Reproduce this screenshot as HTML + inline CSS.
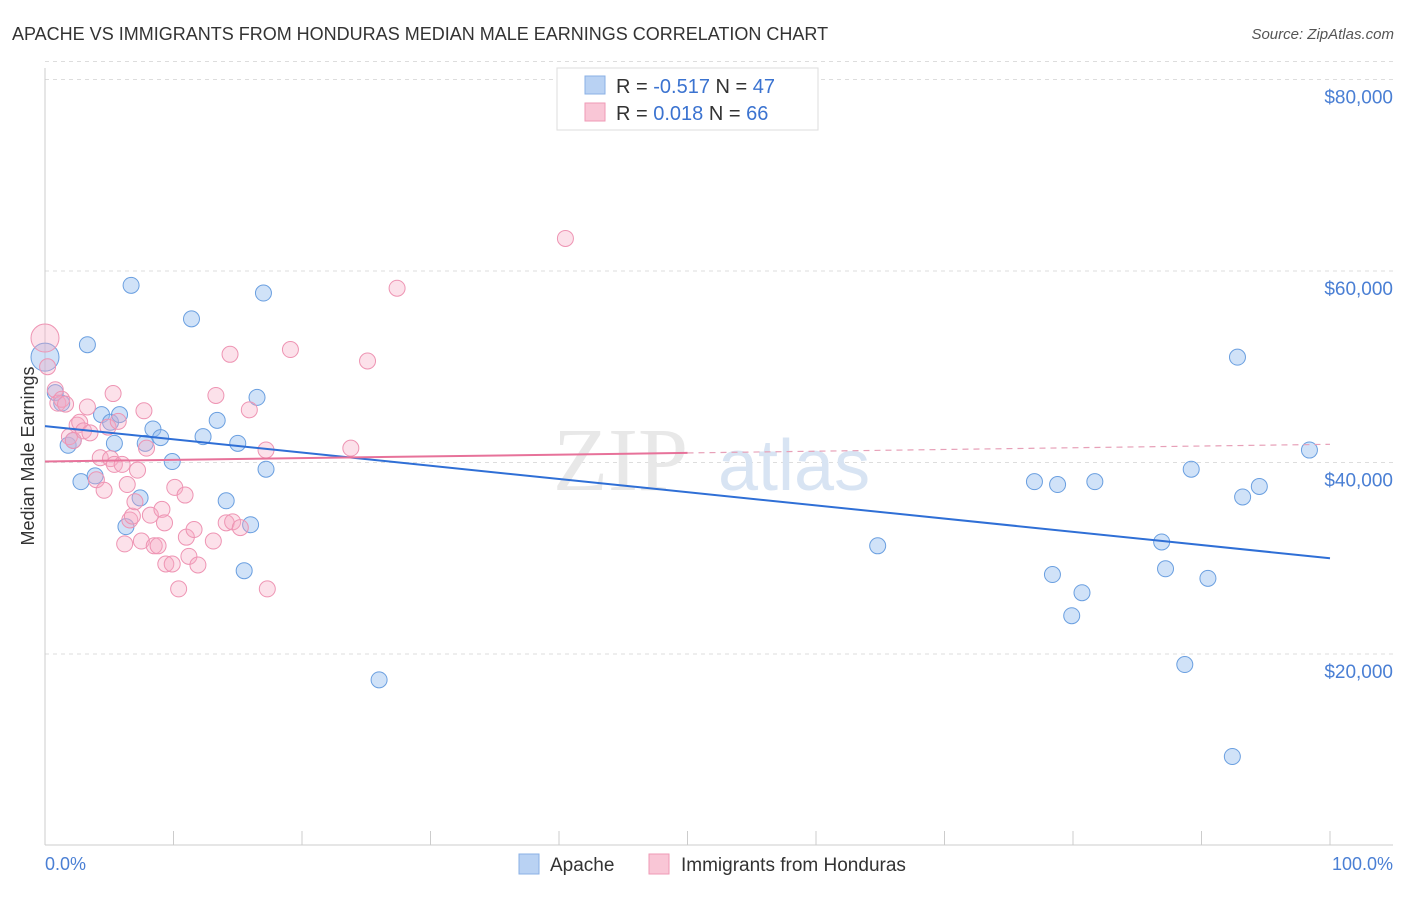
<!DOCTYPE html>
<html><head><meta charset="utf-8"><style>
body{margin:0;background:#fff;font-family:"Liberation Sans",sans-serif;}
</style></head><body>
<svg width="1406" height="892" viewBox="0 0 1406 892" xmlns="http://www.w3.org/2000/svg" style="font-family:'Liberation Sans',sans-serif">
<text x="12" y="40" font-size="18" fill="#333">APACHE VS IMMIGRANTS FROM HONDURAS MEDIAN MALE EARNINGS CORRELATION CHART</text>
<text x="1394" y="39" font-size="15" fill="#555" text-anchor="end" font-style="italic">Source: ZipAtlas.com</text>
<g id="grid"></g>
<text x="553" y="490" font-size="90" fill="#e8e8e8" font-family="Liberation Serif">ZIP</text>
<text x="718" y="490" font-size="72" fill="#d8e4f3">atlas</text>
<line x1="45" y1="68" x2="45" y2="845" stroke="#ccc"/>
<line x1="45" y1="845" x2="1393" y2="845" stroke="#ccc"/>
<g id="ticks"></g>
<text transform="translate(34,456) rotate(-90)" font-size="18" fill="#333" text-anchor="middle">Median Male Earnings</text>
<text x="45" y="870" font-size="18" fill="#4a7fd4">0.0%</text>
<text x="1393" y="870" font-size="18" fill="#4a7fd4" text-anchor="end">100.0%</text>
<g id="points"></g>
<g id="lines"></g>
<g>
<rect x="557" y="68" width="261" height="62" fill="#fff" stroke="#ddd"/>
<rect x="585" y="76" width="20" height="18" fill="#b9d2f3" stroke="#8ab0e6"/>
<rect x="585" y="103" width="20" height="18" fill="#f9c6d6" stroke="#ef9ab6"/>
<text x="616" y="93" font-size="20" fill="#333">R = <tspan fill="#3b73d0">-0.517</tspan>   N = <tspan fill="#3b73d0">47</tspan></text>
<text x="616" y="120" font-size="20" fill="#333">R = <tspan fill="#3b73d0"> 0.018</tspan>   N = <tspan fill="#3b73d0">66</tspan></text>
</g>
<g>
<rect x="519" y="854" width="20" height="20" fill="#b9d2f3" stroke="#8ab0e6"/>
<text x="550" y="871" font-size="19" fill="#333">Apache</text>
<rect x="649" y="854" width="20" height="20" fill="#f9c6d6" stroke="#ef9ab6"/>
<text x="681" y="871" font-size="19" fill="#333">Immigrants from Honduras</text>
</g>
</svg>
<script>
const yTicks=[20000,40000,60000,80000];
const yTickLabels=["$20,000","$40,000","$60,000","$80,000"];
const xTicks=[0,10,20,30,40,50,60,70,80,90,100];
const apacheX=[0,0.8,1.3,1.8,2.2,2.8,3.3,3.9,4.4,5.1,5.4,5.8,6.3,6.7,7.4,7.8,8.4,9,9.9,11.4,12.3,13.4,14.1,15,15.5,16,16.5,17,17.2,26,64.8,77,78.4,78.8,79.9,80.7,81.7,86.9,87.2,88.7,89.2,90.5,92.4,92.8,93.2,94.5,98.4];
const apacheY=[51000,47300,46200,41800,42300,38000,52300,38600,45000,44200,42000,45000,33300,58500,36300,42000,43500,42600,40100,55000,42700,44400,36000,42000,28700,33500,46800,57700,39300,17300,31300,38000,28300,37700,24000,26400,38000,31700,28900,18900,39300,27900,9300,51000,36400,37500,41300];
const hondX=[0,0.2,0.8,1,1.3,1.6,1.9,2.2,2.5,2.7,3,3.3,3.5,4,4.3,4.6,4.9,5.1,5.3,5.4,5.7,6,6.2,6.4,6.6,6.8,7,7.2,7.5,7.7,7.9,8.2,8.5,8.8,9.1,9.3,9.4,9.9,10.1,10.4,10.9,11,11.2,11.6,11.9,13.1,13.3,14.1,14.4,14.6,15.2,15.9,17.2,17.3,19.1,23.8,25.1,27.4,40.5];
const hondY=[53000,50000,47600,46200,46600,46100,42700,42300,43900,44200,43300,45800,43100,38200,40500,37100,43700,40400,47200,39800,44300,39800,31500,37700,34000,34400,35900,39200,31800,45400,41500,34500,31300,31300,35100,33700,29400,29400,37400,26800,36600,32200,30200,33000,29300,31800,47000,33700,51300,33800,33200,45500,41300,26800,51800,41500,50600,58200,63400];
const apacheTrend=[43800,30000];
const hondTrendSolid=[40100,41000];
const hondTrendEnd=41900;
const X=v=>45+v/100*1285, Y=v=>845.5-v/20000*191.5;
const ns="http://www.w3.org/2000/svg";
function mk(t,a,p){const e=document.createElementNS(ns,t);for(const k in a)e.setAttribute(k,a[k]);document.getElementById(p).appendChild(e);return e;}
yTicks.forEach((t,i)=>{
 const l=mk('line',{x1:45,x2:1393,y1:Y(t),y2:Y(t),stroke:'#ddd','stroke-dasharray':'4,4'},'grid');
 
 
 const tx=mk('text',{x:1393,y:Y(t)+24,'font-size':19,fill:'#4a7fd4','text-anchor':'end'},'grid');
 tx.textContent=yTickLabels[i];
 
 
});
const top80=mk('line',{x1:45,x2:1393,y1:Y(80000)-18,y2:Y(80000)-18,stroke:'#ddd','stroke-dasharray':'4,4'},'grid');


xTicks.forEach(t=>{
 const l=mk('line',{x1:X(t),x2:X(t),y1:831,y2:845,stroke:'#ccc'},'ticks');
 
 
});
apacheX.forEach((x,i)=>{
 const c=mk('circle',{cx:X(x),cy:Y(apacheY[i]),r:i==0?14:8,fill:'rgba(150,190,240,0.45)',stroke:'#6a9fe0','stroke-width':1},'points');
 
 
});
hondX.forEach((x,i)=>{
 const c=mk('circle',{cx:X(x),cy:Y(hondY[i]),r:i==0?14:8,fill:'rgba(246,170,196,0.35)',stroke:'#ee94b3','stroke-width':1},'points');
 
 
});
let l=mk('line',{x1:X(0),y1:Y(apacheTrend[0]),x2:X(100),y2:Y(apacheTrend[1]),stroke:'#2f6fd6','stroke-width':2},'lines');


l=mk('line',{x1:X(0),y1:Y(hondTrendSolid[0]),x2:X(50),y2:Y(hondTrendSolid[1]),stroke:'#e7729a','stroke-width':2},'lines');


l=mk('line',{x1:X(50),y1:Y(hondTrendSolid[1]),x2:X(100),y2:Y(hondTrendEnd),stroke:'#e7a0b8','stroke-width':1.2,'stroke-dasharray':'6,5'},'lines');


</script>
</body></html>
